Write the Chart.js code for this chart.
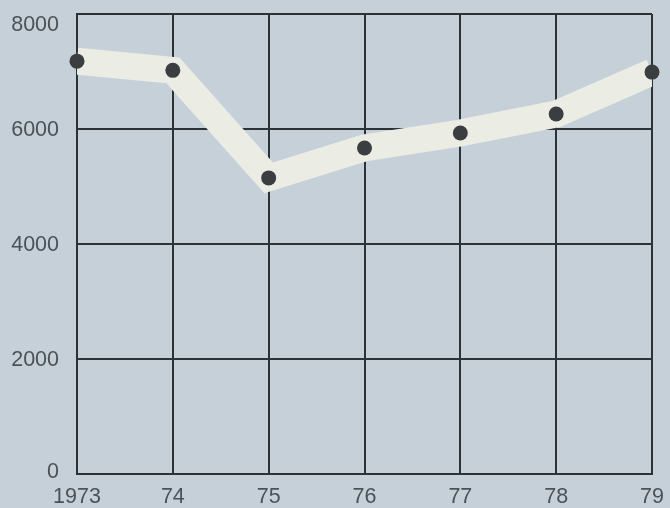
<!DOCTYPE html>
<html>
<head>
<meta charset="utf-8">
<script src="https://cdn.jsdelivr.net/npm/chart.js@4"></script>
<style>
  html, body { margin: 0; padding: 0; background: #c5d0d9; }
  #wrap { width: 670px; height: 508px; }
</style>
</head>
<body>
<div id="wrap"><canvas id="chart" width="670" height="508"></canvas></div>
<script>
const years = ["1973", "74", "75", "76", "77", "78", "79"];
const values = [7180, 7020, 5150, 5670, 5930, 6260, 6990];
const yTicks = [0, 2000, 4000, 6000, 8000];

const gridColor = "#2c3236";
const textColor = "#4b5257";
const fontFamily = "'Liberation Sans', Arial, sans-serif";

// y labels drawn by hand so the top one can sit a bit below its line, like the print
const yLabels = {
  id: "yLabels",
  afterDraw(chart) {
    const ctx = chart.ctx;
    const y = chart.scales.y;
    ctx.save();
    ctx.font = "21.5px " + fontFamily;
    ctx.fillStyle = textColor;
    ctx.textAlign = "right";
    ctx.textBaseline = "middle";
    yTicks.forEach((v) => {
      let py = y.getPixelForValue(v);
      if (v === 8000) py += 10;
      if (v === 0) py -= 3;
      ctx.fillText(String(v), 59, py + 1);
    });
    ctx.restore();
  },
};

new Chart(document.getElementById("chart"), {
  type: "line",
  data: {
    labels: years,
    datasets: [
      {
        data: values,
        borderColor: "#ebede5",
        borderWidth: 27,
        borderJoinStyle: "miter",
        borderCapStyle: "butt",
        pointRadius: 0,
        tension: 0,
        clip: 0,
        order: 2,
      },
      {
        data: values,
        showLine: false,
        pointRadius: 7.5,
        pointBackgroundColor: "#3b3e41",
        pointBorderWidth: 0,
        clip: false,
        order: 1,
      },
    ],
  },
  options: {
    responsive: false,
    animation: false,
    layout: { padding: { top: 14, right: 18, left: 0, bottom: 0 } },
    plugins: { legend: { display: false }, tooltip: { enabled: false } },
    scales: {
      x: {
        type: "category",
        offset: false,
        grid: { color: gridColor, lineWidth: 2, drawTicks: false },
        border: { color: gridColor, width: 2 },
        ticks: {
          color: textColor,
          font: { family: fontFamily, size: 21.5 },
          padding: 10,
          maxRotation: 0,
          autoSkip: false,
        },
        afterFit(scale) {
          scale.height = 34;
          scale.paddingLeft = 0;
          scale.paddingRight = 0;
        },
      },
      y: {
        min: 0,
        max: 8000,
        grid: { color: gridColor, lineWidth: 2, drawTicks: false },
        border: { color: gridColor, width: 2 },
        ticks: { stepSize: 2000, display: false },
        afterFit(scale) { scale.width = 77; },
      },
    },
  },
  plugins: [yLabels],
});
</script>
</body>
</html>
